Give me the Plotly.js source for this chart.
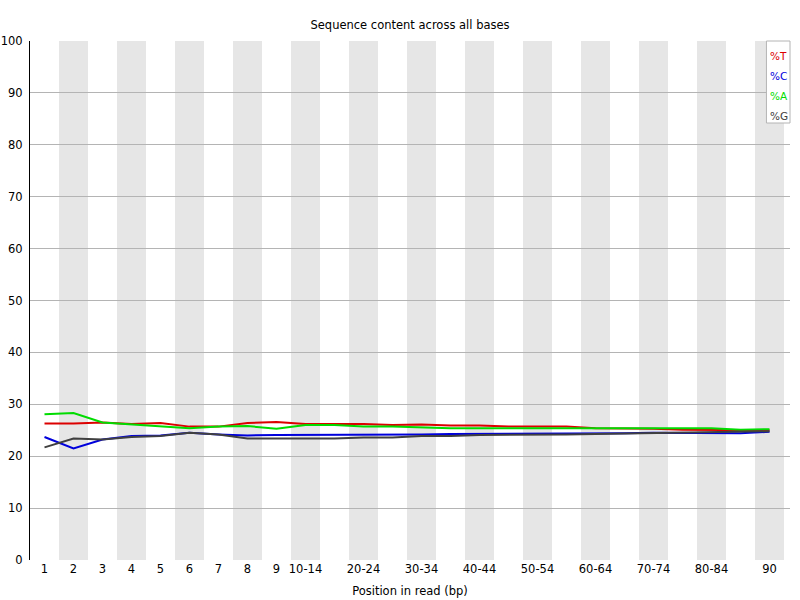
<!DOCTYPE html>
<html>
<head>
<meta charset="utf-8">
<script src="https://cdn.plot.ly/plotly-3.0.1.min.js"></script>
<style>html,body{margin:0;padding:0;background:#fff;}#chart{width:800px;height:600px;}</style>
</head>
<body>
<div id="chart"></div>
<script>
const categories = ['1','2','3','4','5','6','7','8','9','10-14','15-19','20-24','25-29','30-34','35-39','40-44','45-49','50-54','55-59','60-64','65-69','70-74','75-79','80-84','85-89','90'];
const tickLabels = ['1','2','3','4','5','6','7','8','9','10-14','20-24','30-34','40-44','50-54','60-64','70-74','80-84','90'];
const seriesNames = ['%T','%C','%A','%G'];
const seriesColors = ['#dc0000','#0000dc','#00dc00','#404040'];
const valuesT = [26.3,26.3,26.5,26.2,26.4,25.7,25.7,26.4,26.6,26.2,26.2,26.2,26.0,26.1,25.9,25.9,25.7,25.7,25.7,25.4,25.4,25.3,25.1,25.1,25.0,25.0];
const valuesC = [23.7,21.5,23.2,23.9,24.0,24.5,24.2,24.0,24.1,24.1,24.1,24.1,24.1,24.2,24.3,24.3,24.3,24.3,24.3,24.4,24.4,24.5,24.5,24.5,24.4,24.7];
const valuesA = [28.1,28.3,26.5,26.1,25.8,25.4,25.7,25.8,25.3,26.0,26.0,25.7,25.7,25.5,25.4,25.4,25.4,25.4,25.4,25.4,25.4,25.4,25.4,25.4,25.1,25.2];
const valuesG = [21.7,23.4,23.2,23.7,23.9,24.5,24.2,23.4,23.4,23.4,23.4,23.6,23.6,23.9,23.9,24.1,24.1,24.2,24.2,24.3,24.4,24.5,24.6,24.6,24.7,24.8];
const allValues = [valuesT, valuesC, valuesA, valuesG];

const idx = categories.map((c,i)=>i);
const traces = allValues.map((v,k)=>({
  x: idx, y: v, type:'scatter', mode:'lines', name: seriesNames[k],
  line:{color: seriesColors[k], width:2}, hoverinfo:'skip'
}));

const shapes = [];
idx.forEach(i=>{
  if (i % 2 === 1) {
    shapes.push({type:'rect', xref:'x', yref:'paper', x0:i-0.5, x1:i+0.5, y0:0, y1:1,
      fillcolor:'#e6e6e6', line:{width:0}, layer:'below'});
  }
});
// legend box
shapes.push({type:'rect', xref:'paper', yref:'paper', x0:0.969, x1:1.0, y0:0.842, y1:1.0,
  fillcolor:'#ffffff', line:{color:'#b4b4b4', width:1}, layer:'above'});

const legendY = [0.971, 0.9325, 0.894, 0.8555];
const annotations = seriesNames.map((n,k)=>({
  text:n, xref:'paper', yref:'paper', x:0.971, y:legendY[k], xanchor:'left', yanchor:'middle',
  showarrow:false, font:{family:'DejaVu Sans', size:10.5, color:seriesColors[k]}
}));

const tickVals = tickLabels.map(t=>categories.indexOf(t));

const layout = {
  width:800, height:600,
  margin:{l:30, r:10, t:41, b:40, pad:0},
  paper_bgcolor:'#ffffff', plot_bgcolor:'#ffffff',
  font:{family:'DejaVu Sans', size:11.5, color:'#000'},
  showlegend:false,
  hovermode:false,
  title:{text:'Sequence content across all bases', x:0.5, xref:'paper', y:1-25/600, yref:'container', yanchor:'middle', xanchor:'center', font:{family:'DejaVu Sans', size:11.5, color:'#000'}},
  xaxis:{range:[-0.5, 25.5+6/29], tickmode:'array', tickvals:tickVals, ticktext:tickLabels,
    showgrid:false, zeroline:false, showline:false, ticks:'', fixedrange:true,
    tickfont:{family:'DejaVu Sans', size:11.5, color:'#000'},
    title:{text:'Position in read (bp)', standoff:12, font:{family:'DejaVu Sans', size:11.5, color:'#000'}},
    automargin:false},
  yaxis:{range:[0,100], tickmode:'array', tickvals:[0,10,20,30,40,50,60,70,80,90,100],
    showgrid:true, gridcolor:'#b4b4b4', gridwidth:1, zeroline:false, showline:true, linecolor:'#000', linewidth:1,
    ticks:'', ticklabelstandoff:4, fixedrange:true, automargin:false,
    tickfont:{family:'DejaVu Sans', size:11.5, color:'#000'}},
  shapes:shapes,
  annotations:annotations
};

Plotly.newPlot('chart', traces, layout, {displayModeBar:false, staticPlot:true});
</script>
</body>
</html>
